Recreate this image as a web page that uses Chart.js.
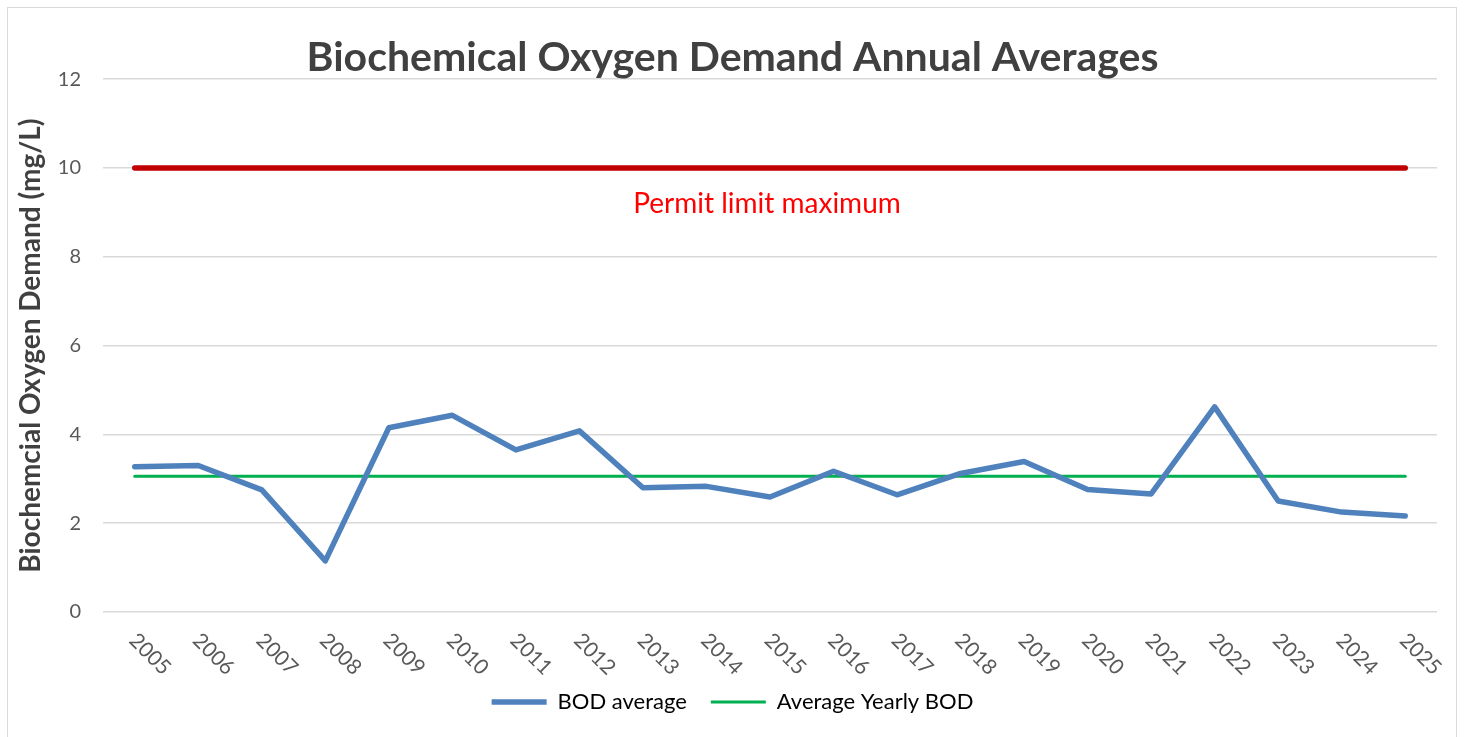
<!DOCTYPE html>
<html>
<head>
<meta charset="utf-8">
<title>Biochemical Oxygen Demand Annual Averages</title>
<script src="https://cdn.jsdelivr.net/npm/chart.js@4.4.1/dist/chart.umd.min.js"></script>
<style>
    html, body { margin: 0; padding: 0; background: #ffffff; overflow: hidden; }
    #frame {
        position: absolute; left: 7px; top: 7px;
        width: 1450px; height: 760px;
        border: 1px solid #d9d9d9; box-sizing: border-box;
    }
    #wrap { position: absolute; left: 0; top: 0; width: 1465px; height: 737px; }
</style>
</head>
<body>
<div id="frame"></div>
<div id="wrap"><canvas id="bodChart"></canvas></div>
<script>
// chart data
const years = ['2005', '2006', '2007', '2008', '2009', '2010', '2011', '2012', '2013', '2014', '2015',
               '2016', '2017', '2018', '2019', '2020', '2021', '2022', '2023', '2024', '2025'];
const bodAverage = [3.27, 3.30, 2.75, 1.15, 4.15, 4.43, 3.65, 4.08, 2.80, 2.83, 2.59,
                    3.17, 2.64, 3.12, 3.39, 2.76, 2.66, 4.62, 2.50, 2.25, 2.16];
const averageYearly = [3.06, 3.06, 3.06, 3.06, 3.06, 3.06, 3.06, 3.06, 3.06, 3.06, 3.06,
                       3.06, 3.06, 3.06, 3.06, 3.06, 3.06, 3.06, 3.06, 3.06, 3.06];
const permitLimit = [10, 10, 10, 10, 10, 10, 10, 10, 10, 10, 10,
                     10, 10, 10, 10, 10, 10, 10, 10, 10, 10];
const yTicks = [0, 2, 4, 6, 8, 10, 12];
const permitLabel = 'Permit limit maximum';
const permitLabelValue = 9.2;

const FONT = 'Lato, "Open Sans", sans-serif';

// draws the red note under the limit line and the slanted year labels
const annotations = {
    id: 'annotations',
    afterDraw(chart) {
        const ctx = chart.ctx;
        const area = chart.chartArea;
        const xScale = chart.scales.x;
        const yScale = chart.scales.y;
        ctx.save();
        ctx.fillStyle = '#ff0000';
        ctx.font = '28px ' + FONT;
        ctx.textAlign = 'center';
        ctx.textBaseline = 'middle';
        ctx.fillText(permitLabel, (area.left + area.right) / 2 - 3, yScale.getPixelForValue(permitLabelValue));

        ctx.fillStyle = '#595959';
        ctx.font = '21px ' + FONT;
        ctx.textAlign = 'left';
        years.forEach(function(label, i) {
            const x = xScale.getPixelForValue(i);
            ctx.save();
            ctx.translate(x - 2, area.bottom + 25);
            ctx.rotate(Math.PI / 4);
            ctx.fillText(label, 0, 0);
            ctx.restore();
        });
        ctx.restore();
    }
};

const canvas = document.getElementById('bodChart');
const bodChart = new Chart(canvas.getContext('2d'), {
    type: 'line',
    data: {
        labels: years,
        datasets: [
            {
                label: 'Permit limit',
                data: permitLimit,
                borderColor: '#c00000',
                backgroundColor: '#c00000',
                borderWidth: 5.5,
                borderCapStyle: 'round',
                pointRadius: 0,
                tension: 0
            },
            {
                label: 'BOD average',
                data: bodAverage,
                borderColor: '#4f81bd',
                backgroundColor: '#4f81bd',
                borderWidth: 5.5,
                borderCapStyle: 'round',
                borderJoinStyle: 'round',
                pointRadius: 0,
                tension: 0
            },
            {
                label: 'Average Yearly BOD',
                data: averageYearly,
                borderColor: '#00b050',
                backgroundColor: '#00b050',
                borderWidth: 3,
                borderCapStyle: 'round',
                pointRadius: 0,
                tension: 0
            }
        ]
    },
    options: {
        responsive: true,
        maintainAspectRatio: false,
        animation: false,
        layout: {
            padding: { left: 0, right: 0, top: 0, bottom: 14 }
        },
        plugins: {
            title: {
                display: true,
                text: 'Biochemical Oxygen Demand Annual Averages',
                color: '#404040',
                font: { family: FONT, size: 41, weight: 'bold' },
                padding: { top: 33, bottom: -3 }
            },
            legend: {
                position: 'bottom',
                labels: {
                    color: '#000000',
                    font: { family: FONT, size: 22 },
                    usePointStyle: true,
                    pointStyle: 'line',
                    pointStyleWidth: 55,
                    padding: 24,
                    filter: function(item) { return item.datasetIndex !== 0; }
                }
            },
            tooltip: { enabled: false }
        },
        scales: {
            x: {
                offset: true,
                grid: { display: false, drawTicks: false },
                border: { display: false },
                ticks: { display: false },
                afterFit: function(scale) { scale.height = 55; }
            },
            y: {
                min: yTicks[0],
                max: yTicks[yTicks.length - 1],
                afterBuildTicks: function(scale) {
                    scale.ticks = yTicks.map(function(v) { return { value: v }; });
                },
                grid: { color: '#d9d9d9', lineWidth: 1.5, drawTicks: false },
                border: { display: false },
                ticks: {
                    color: '#595959',
                    font: { family: FONT, size: 20 },
                    padding: 22
                },
                title: {
                    display: true,
                    text: 'Biochemcial Oxygen Demand (mg/L)',
                    color: '#404040',
                    font: { family: FONT, size: 28, weight: 'bold' },
                    padding: { top: 14, bottom: 0 }
                },
                afterFit: function(scale) { scale.width = 103; }
            },
            // empty right-hand strip so the title and legend centre on the whole page
            yRight: {
                position: 'right',
                min: yTicks[0],
                max: yTicks[yTicks.length - 1],
                grid: { display: false, drawTicks: false },
                border: { display: false },
                ticks: { display: false },
                afterFit: function(scale) { scale.width = 28; }
            }
        }
    },
    plugins: [annotations]
});
</script>
</body>
</html>
